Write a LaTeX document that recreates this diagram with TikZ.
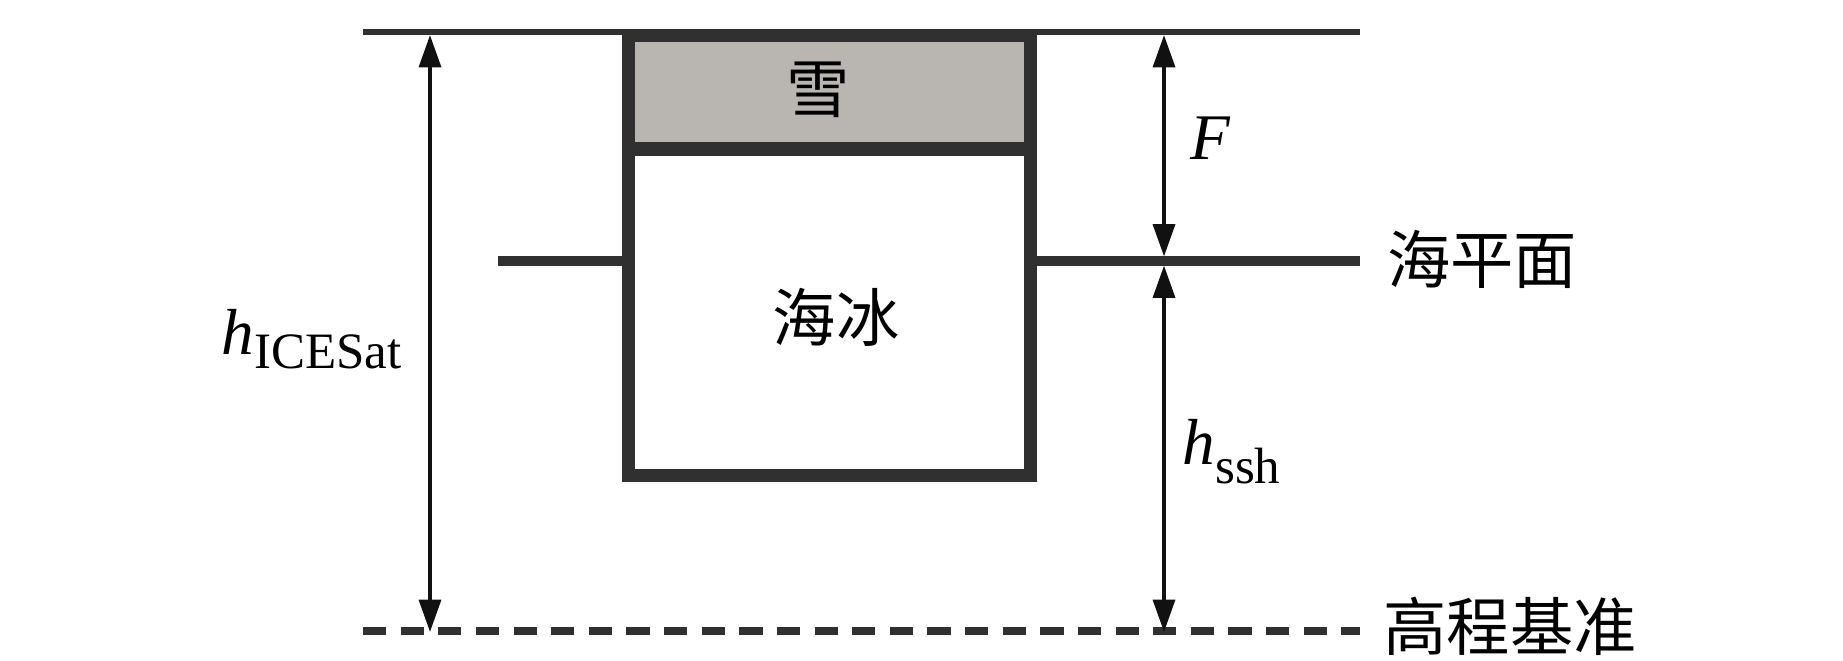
\documentclass[tikz,border=0pt]{standalone}
\usepackage{fontspec}
\setmainfont{Liberation Serif}
\newfontfamily\cjk{Noto Sans CJK SC}
\usetikzlibrary{arrows.meta}
\definecolor{linegray}{RGB}{48,48,48}
\definecolor{snowfill}{RGB}{185,181,177}
\definecolor{arrowblack}{RGB}{17,17,17}
\tikzset{
  toplevel/.style={draw=linegray, line width=1.7pt},
  sealevel/.style={draw=linegray, line width=2.6pt},
  datumline/.style={draw=linegray, line width=2.1pt, dash pattern=on 6.6pt off 4.1pt},
  boxline/.style={draw=linegray, line width=3.7pt},
  dimline/.style={draw=arrowblack, line width=1.1pt, {Triangle[length=9.2pt,width=6.2pt]}-{Triangle[length=9.2pt,width=6.2pt]}},
  cjklabel/.style={font=\cjk\fontsize{18}{20}\selectfont, inner sep=0pt},
  mathlabel/.style={font=\fontsize{18.5}{20}\selectfont, inner sep=0pt, anchor=base west},
}
\begin{document}
\begin{tikzpicture}[x=0.01cm,y=-0.01cm]
\useasboundingbox (0,0) rectangle (1843,661);
% coordinates
\coordinate (topL) at (363,32);
\coordinate (topR) at (1360,32);
\coordinate (seaL1) at (498,261);
\coordinate (seaL2) at (628.5,261);
\coordinate (seaR1) at (1030.5,261);
\coordinate (seaR2) at (1360,261);
\coordinate (datL) at (363,631);
\coordinate (datR) at (1360,631);
\coordinate (boxNW) at (628.5,35.5);
\coordinate (boxSE) at (1030.5,475.5);
\coordinate (divL) at (628.5,149);
\coordinate (divR) at (1030.5,149);
\coordinate (aTop) at (430,35);
\coordinate (aBot) at (430,632);
\coordinate (fTop) at (1164,35);
\coordinate (fBot) at (1164,256.5);
\coordinate (sTop) at (1164,265.5);
\coordinate (sBot) at (1164,632);
% snow fill
\fill[snowfill] (boxNW) rectangle (divR);
% levels
\draw[toplevel] (topL) -- (topR);
\draw[sealevel] (seaL1) -- (seaL2);
\draw[sealevel] (seaR1) -- (seaR2);
\draw[datumline] (datL) -- (datR);
% box
\draw[boxline] (boxNW) rectangle (boxSE);
\draw[draw=linegray, line width=4pt] (divL) -- (divR);
% dimension arrows
\draw[dimline] (aTop) -- (aBot);
\draw[dimline] (fTop) -- (fBot);
\draw[dimline] (sTop) -- (sBot);
% labels
\node[cjklabel] (snow) at (818,90) {雪};
\node[cjklabel] (ice) at (836,317) {海冰};
\node[cjklabel] (sea) at (1482,259) {海平面};
\node[cjklabel] (datum) at (1510,626) {高程基准};
\node[mathlabel] (F) at (1190,160) {\textit{F}};
\node[mathlabel] (hssh) at (1182,465) {\textit{h}\raisebox{-5.3pt}{\fontsize{14.5}{16}\selectfont ssh}};
\node[mathlabel] (hice) at (221,354) {\textit{h}\raisebox{-4.2pt}{\fontsize{14.5}{16}\selectfont ICESat}};
\end{tikzpicture}
\end{document}
